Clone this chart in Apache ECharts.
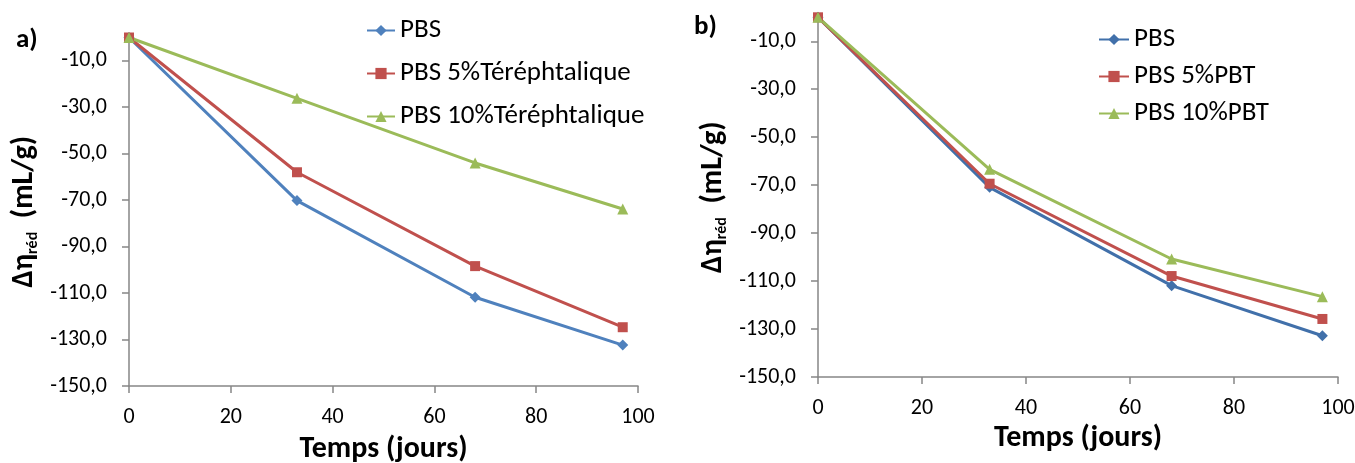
<!DOCTYPE html>
<html>
<head>
<meta charset="utf-8">
<script src="https://cdn.jsdelivr.net/npm/echarts@6/dist/echarts.min.js"></script>
<style>
  html, body { margin: 0; padding: 0; background: #fff; }
  #chart { width: 1355px; height: 463px; }
</style>
</head>
<body>
<div id="chart"></div>
<script>
// Time points (days)
const days = [0, 33, 68, 97];

// Panel a) — PBS with terephthalic acid
const pbsA = [0, -70.2, -111.8, -132.4];
const tere5 = [0, -58.0, -98.4, -124.7];
const tere10 = [0, -26.2, -54.0, -73.8];

// Panel b) — PBS with PBT
const pbsB = [0, -70.9, -111.9, -132.8];
const pbt5 = [0, -69.4, -107.9, -125.8];
const pbt10 = [0, -63.4, -100.8, -116.5];

// Axis ticks
const yTicks = [-150, -130, -110, -90, -70, -50, -30, -10];
const xTicks = [0, 20, 40, 60, 80, 100];

const FONT = 'Carlito, Lato, "Liberation Sans", sans-serif';
const AXIS_GREY = '#868686';

const pairs = (vals) => days.map((d, i) => [d, vals[i]]);

function yAxisCfg(gridIndex) {
  return {
    type: 'value', gridIndex, min: -150, max: 0, interval: 20,
    axisLine: { show: true, lineStyle: { color: AXIS_GREY, width: 1.5 } },
    axisTick: { show: true, length: 7, customValues: yTicks, lineStyle: { color: AXIS_GREY, width: 1.5 } },
    axisLabel: {
      customValues: yTicks, margin: 22, color: '#000', fontFamily: FONT, fontSize: 22,
      formatter: (v) => v.toFixed(1).replace('.', ',')
    },
    splitLine: { show: false },
    name: '{a|Δη}{s|réd}{a|  (mL/g)}',
    nameLocation: 'middle', nameRotate: 90, nameGap: 88,
    nameTextStyle: {
      rich: {
        a: { fontFamily: FONT, fontWeight: 'bold', fontSize: 30, color: '#000', lineHeight: 34 },
        s: { fontFamily: FONT, fontWeight: 'bold', fontSize: 16, color: '#000', lineHeight: 16, verticalAlign: 'bottom' }
      }
    }
  };
}

function xAxisCfg(gridIndex, gap) {
  return {
    type: 'value', gridIndex, min: 0, max: 100, interval: 20,
    axisLine: { show: true, onZero: false, lineStyle: { color: AXIS_GREY, width: 1.5 } },
    axisTick: { show: true, length: 7, customValues: xTicks, lineStyle: { color: AXIS_GREY, width: 1.5 } },
    axisLabel: { customValues: xTicks, margin: 20, color: '#000', fontFamily: FONT, fontSize: 22 },
    splitLine: { show: false },
    name: 'Temps (jours)', nameLocation: 'middle', nameGap: gap,
    nameTextStyle: { fontFamily: FONT, fontWeight: 'bold', fontSize: 30, color: '#000' }
  };
}

function lineSeries(name, vals, color, symbol, size, idx) {
  return {
    name, type: 'line', xAxisIndex: idx, yAxisIndex: idx,
    data: pairs(vals), symbol, symbolSize: size, showSymbol: true,
    itemStyle: { color }, lineStyle: { color, width: 3 },
    emphasis: { disabled: true }, clip: false, animation: false
  };
}

const BLUE_A = '#4F81BD', BLUE_B = '#4170AA', RED = '#C0504D', GREEN = '#9BBB59';

const option = {
  backgroundColor: '#fff',
  animation: false,
  grid: [
    { left: 129, right: 717, top: 37.5, bottom: 77, outerBoundsMode: 'none' },
    { left: 818, right: 17, top: 17.3, bottom: 86, outerBoundsMode: 'none' }
  ],
  xAxis: [xAxisCfg(0, 48), xAxisCfg(1, 45)],
  yAxis: [yAxisCfg(0), yAxisCfg(1)],
  legend: [
    {
      orient: 'vertical', left: 366, top: 17, padding: 0, itemWidth: 28, itemHeight: 14, itemGap: 16,
      data: ['PBS', 'PBS 5%Téréphtalique', 'PBS 10%Téréphtalique'],
      textStyle: { fontFamily: FONT, fontSize: 27, color: '#000', lineHeight: 26 },
      selectedMode: false
    },
    {
      orient: 'vertical', left: 1098, top: 26, padding: 0, itemWidth: 30, itemHeight: 14, itemGap: 10,
      data: ['PBS ', 'PBS 5%PBT', 'PBS 10%PBT'],
      textStyle: { fontFamily: FONT, fontSize: 27, color: '#000', lineHeight: 26 },
      selectedMode: false
    }
  ],
  graphic: [
    { type: 'text', left: 16, top: 27, style: { text: 'a)', font: 'bold 27px ' + FONT, fill: '#000' } },
    { type: 'text', left: 694, top: 14, style: { text: 'b)', font: 'bold 27px ' + FONT, fill: '#000' } }
  ],
  series: [
    lineSeries('PBS', pbsA, BLUE_A, 'diamond', 11, 0),
    lineSeries('PBS 5%Téréphtalique', tere5, RED, 'rect', 10, 0),
    lineSeries('PBS 10%Téréphtalique', tere10, GREEN, 'triangle', 11, 0),
    lineSeries('PBS ', pbsB, BLUE_B, 'diamond', 11, 1),
    lineSeries('PBS 5%PBT', pbt5, RED, 'rect', 10, 1),
    lineSeries('PBS 10%PBT', pbt10, GREEN, 'triangle', 11, 1)
  ]
};

const chart = echarts.init(document.getElementById('chart'), null, { renderer: 'canvas' });
chart.setOption(option);
</script>
</body>
</html>
